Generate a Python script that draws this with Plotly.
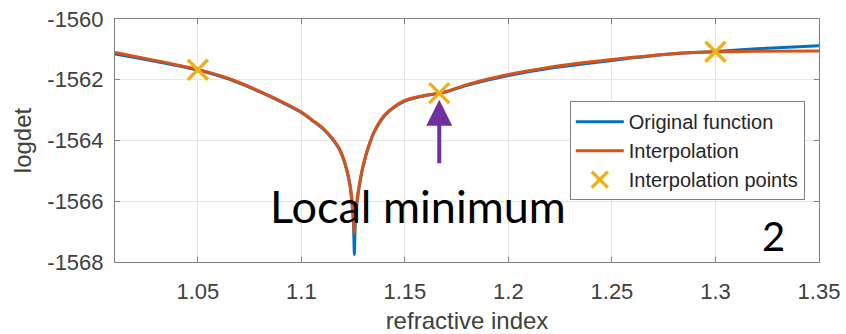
import plotly.graph_objects as go

# Original function
x_orig = [1.010, 1.030, 1.050, 1.065, 1.080, 1.090, 1.100, 1.106, 1.111, 1.115, 1.118, 1.120,
          1.122, 1.1235, 1.1245, 1.1252, 1.1256, 1.1260, 1.1268, 1.128, 1.130, 1.1325, 1.135,
          1.140, 1.145, 1.150, 1.160, 1.168, 1.180, 1.200, 1.220, 1.240, 1.260, 1.280, 1.300,
          1.320, 1.350]
y_orig = [-1561.15, -1561.40, -1561.68, -1561.98, -1562.40, -1562.72, -1563.08, -1563.38,
          -1563.65, -1563.95, -1564.25, -1564.55, -1565.00, -1565.50, -1566.10, -1566.80,
          -1567.75, -1566.80, -1566.10, -1565.50, -1564.80, -1564.20, -1563.75, -1563.20,
          -1562.90, -1562.70, -1562.52, -1562.43, -1562.18, -1561.86, -1561.62, -1561.45,
          -1561.28, -1561.14, -1561.07, -1560.98, -1560.88]

# Interpolation curve
x_interp = x_orig
y_interp = [-1561.10, -1561.37, -1561.66, -1561.96, -1562.38, -1562.70, -1563.06, -1563.36,
            -1563.63, -1563.93, -1564.22, -1564.52, -1564.97, -1565.45, -1566.00, -1566.60,
            -1567.05, -1566.60, -1566.00, -1565.45, -1564.77, -1564.18, -1563.73, -1563.18,
            -1562.88, -1562.68, -1562.51, -1562.43, -1562.16, -1561.83, -1561.59, -1561.41,
            -1561.26, -1561.14, -1561.08, -1561.06, -1561.05]

# Interpolation points
x_pts = [1.05, 1.1666, 1.30]
y_pts = [-1561.67, -1562.44, -1561.08]

x_tickvals = [1.05, 1.10, 1.15, 1.20, 1.25, 1.30, 1.35]
x_ticktext = ["1.05", "1.1", "1.15", "1.2", "1.25", "1.3", "1.35"]
y_tickvals = [-1568, -1566, -1564, -1562, -1560]
y_ticktext = ["-1568", "-1566", "-1564", "-1562", "-1560"]

arrow_tip = (1.1666, -1562.66)
arrow_tail = (1.1666, -1564.80)

fig = go.Figure()
fig.add_trace(go.Scatter(x=x_orig, y=y_orig, mode="lines", name="Original function",
                         line=dict(color="#0072BD", width=3, shape="spline", smoothing=0.8)))
fig.add_trace(go.Scatter(x=x_interp, y=y_interp, mode="lines", name="Interpolation",
                         line=dict(color="#D95319", width=3, shape="spline", smoothing=0.8)))
fig.add_trace(go.Scatter(x=x_pts, y=y_pts, mode="markers", name="Interpolation points",
                         marker=dict(symbol="x-thin", size=20, color="#EDB120",
                                     line=dict(color="#EDB120", width=3.5))))

fig.add_annotation(x=arrow_tip[0], y=arrow_tip[1], ax=arrow_tail[0], ay=arrow_tail[1],
                   xref="x", yref="y", axref="x", ayref="y", text="", showarrow=True,
                   arrowhead=2, arrowsize=1.3, arrowwidth=4, arrowcolor="#7030A0", standoff=0)
fig.add_annotation(x=(418 - 115) / 704, y=(262 - 206) / 243, xref="paper", yref="paper",
                   text="Local minimum", showarrow=False, xanchor="center", yanchor="middle",
                   font=dict(family="Lato", size=45, color="black"))
fig.add_annotation(x=(773 - 115) / 704, y=(262 - 236) / 243, xref="paper", yref="paper",
                   text="2", showarrow=False, xanchor="center", yanchor="middle",
                   font=dict(family="Lato", size=40, color="black"))

tfont = dict(family="Liberation Sans, Arial", size=22, color="#404040")
axis_common = dict(showline=True, linecolor="#808080", linewidth=1, mirror="ticks",
                   ticks="inside", ticklen=5, tickcolor="#808080", showgrid=True,
                   gridcolor="#E6E6E6", gridwidth=1, zeroline=False, tickfont=tfont,
                   automargin=False)

fig.update_layout(
    width=846, height=334,
    margin=dict(l=115, r=27, t=19, b=72),
    paper_bgcolor="white", plot_bgcolor="white",
    showlegend=True,
    legend=dict(x=0.646, y=0.662, xanchor="left", yanchor="top",
                bgcolor="white", bordercolor="#808080", borderwidth=1,
                font=dict(family="Liberation Sans, Arial", size=20, color="#262626"),
                tracegroupgap=0, itemwidth=48),
    xaxis=dict(range=[1.01, 1.35], tickvals=x_tickvals, ticktext=x_ticktext,
               title=dict(text="refractive index",
                          font=dict(family="Liberation Sans, Arial", size=24, color="#404040")),
               ticklabelstandoff=10, **axis_common),
    yaxis=dict(range=[-1568, -1560], tickvals=y_tickvals, ticktext=y_ticktext,
               title=dict(text="logdet", standoff=8,
                          font=dict(family="Liberation Sans, Arial", size=24, color="#404040")),
               ticklabelstandoff=6, **axis_common),
)

fig.write_html("out.html")
